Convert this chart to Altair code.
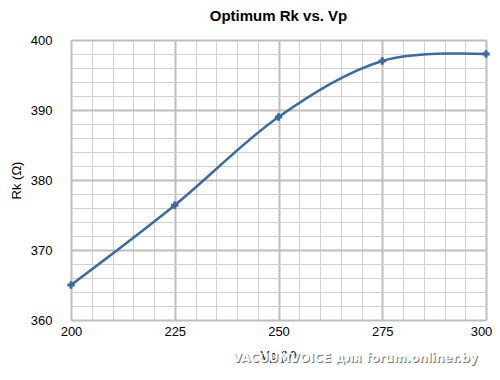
import altair as alt
import pandas as pd

vp = [200, 225, 250, 275, 300]
rk = [365.0, 376.4, 389.0, 397.0, 398.0]

x_ticks = list(range(200, 301, 5))
y_ticks = list(range(360, 401, 2))

df = pd.DataFrame({"Vp": vp, "Rk": rk})

FONT = "Liberation Sans"
LINE = "#3b6ba3"

xscale = alt.Scale(domain=[200, 300], nice=False, zero=False)
yscale = alt.Scale(domain=[360, 400], nice=False, zero=False)

xaxis = alt.Axis(
    values=x_ticks,
    tickCount=200,
    format="d",
    title="Vp (V)",
    labelExpr="datum.value % 25 === 0 ? datum.label : ''",
    labelOverlap=False,
    labelFlush=False,
    labelOffset={"condition": {"test": "datum.value === 300", "value": -5}, "value": 0},
    labelFontSize=13,
    labelColor="#000000",
    labelPadding=5,
    titleFontSize=13,
    titleFontWeight="normal",
    titleColor="#000000",
    titlePadding=11,
    ticks=False,
    domain=False,
    gridColor={"condition": {"test": "datum.value % 25 === 0", "value": "#bdbdbd"}, "value": "#d0d0d0"},
    gridWidth={"condition": {"test": "datum.value % 25 === 0", "value": 2}, "value": 1},
    labelFont=FONT,
    titleFont=FONT,
)
yaxis = alt.Axis(
    values=y_ticks,
    tickCount=200,
    format="d",
    title="Rk (Ω)",
    labelExpr="datum.value % 10 === 0 ? datum.label : ''",
    labelOverlap=False,
    labelFlush=False,
    labelFontSize=13,
    labelColor="#000000",
    labelPadding=19,
    titleFontSize=13,
    titleFontWeight="normal",
    titleColor="#000000",
    titlePadding=7,
    ticks=False,
    domain=False,
    gridColor={"condition": {"test": "datum.value % 10 === 0", "value": "#bdbdbd"}, "value": "#d0d0d0"},
    gridWidth={"condition": {"test": "datum.value % 10 === 0", "value": 2}, "value": 1},
    labelFont=FONT,
    titleFont=FONT,
)

base = alt.Chart(df)

line = base.mark_line(color=LINE, strokeWidth=2.5, interpolate="cardinal").encode(
    x=alt.X("Vp:Q", scale=xscale, axis=xaxis),
    y=alt.Y("Rk:Q", scale=yscale, axis=yaxis),
)

pts = base.mark_point(shape="cross", filled=True, color=LINE, size=55, opacity=1).encode(
    x=alt.X("Vp:Q", scale=xscale),
    y=alt.Y("Rk:Q", scale=yscale),
)

wm_text = "VACUUMVOICE для forum.onliner.by"
wm_shadow = alt.Chart(pd.DataFrame({"t": [wm_text]})).mark_text(
    font="DejaVu Sans", fontSize=12, fontWeight="bold", color="#555555", opacity=0.8
).encode(x=alt.value(285), y=alt.value(319), text="t:N")
wm = alt.Chart(pd.DataFrame({"t": [wm_text]})).mark_text(
    font="DejaVu Sans", fontSize=12, fontWeight="bold", color="#ffffff"
).encode(x=alt.value(284), y=alt.value(318), text="t:N")

chart = alt.layer(line, pts, wm_shadow, wm).properties(
    width=415,
    height=280,
    title=alt.TitleParams(
        "Optimum Rk vs. Vp",
        font=FONT,
        fontSize=15,
        fontWeight="bold",
        color="#000000",
        anchor="middle",
        offset=10,
    ),
    autosize=alt.AutoSizeParams(type="none"),
    padding={"left": 63, "top": 32, "right": 6, "bottom": 52},
).configure_view(stroke=None)

chart.save("out.html", embed_options={"renderer": "svg", "actions": False})
